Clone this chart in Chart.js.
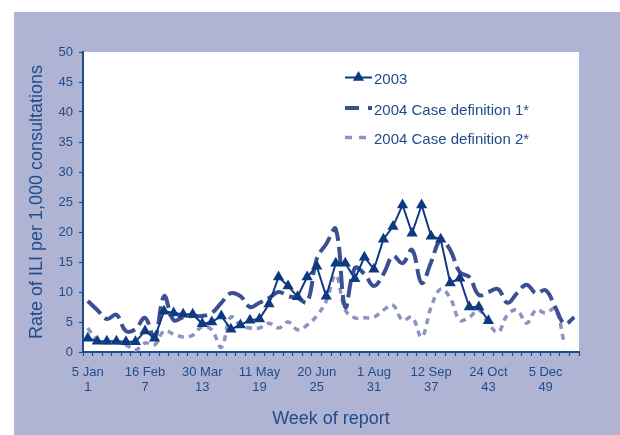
<!DOCTYPE html>
<html>
<head>
<meta charset="utf-8">
<script src="https://cdn.jsdelivr.net/npm/chart.js@4/dist/chart.umd.min.js"></script>
<style>
  html, body { margin: 0; padding: 0; background: #fff; }
  #wrap { width: 620px; height: 435px; }
</style>
</head>
<body>
<div id="wrap"><canvas id="chart" width="620" height="435"></canvas></div>
<script>
// Weeks of report (categories)
var weeks = [1,2,3,4,5,6,7,8,9,10,11,12,13,14,15,16,17,18,19,20,21,22,23,24,25,26,
             27,28,29,30,31,32,33,34,35,36,37,38,39,40,41,42,43,44,45,46,47,48,49,50,51,52];

// Labelled ticks on the x axis
var tickWeeks = [1, 7, 13, 19, 25, 31, 37, 43, 49];
var tickDates = ['5 Jan', '16 Feb', '30 Mar', '11 May', '20 Jun', '1 Aug', '12 Sep', '24 Oct', '5 Dec'];

// Rate of ILI per 1,000 consultations
var rate2003 = [2.3, 1.8, 1.8, 1.8, 1.7, 1.7, 3.5, 2.3, 6.8, 6.5, 6.3, 6.3, 4.7, 5.0, 6.0, 3.8,
                4.5, 5.3, 5.5, 8.0, 12.5, 11.0, 9.2, 12.5, 14.3, 9.3, 14.8, 14.8, 12.2, 15.8,
                13.8, 18.8, 20.9, 24.5, 19.8, 24.5, 19.3, 18.8, 11.5, 12.3, 7.5, 7.5, 5.2];

var rateDef1 = [8.5, 7.0, 5.5, 6.2, 3.5, 3.8, 5.7, 2.3, 9.3, 5.3, 5.8, 6.0, 6.0, 6.5, 8.2, 9.8,
                9.3, 7.5, 8.2, 9.0, 10.0, 9.3, 9.0, 8.3, 15.5, 18.0, 20.5, 7.5, 14.0, 13.0,
                11.0, 13.0, 16.0, 14.8, 17.0, 11.5, 15.0, 18.7, 17.0, 13.3, 12.5, 9.5, 10.0,
                10.5, 8.2, 9.8, 11.2, 9.8, 10.3, 7.5, 4.7, 5.8];

var rateDef2 = [4.0, 2.0, 1.5, 1.5, 1.2, 0.3, 1.5, 1.2, 3.5, 3.0, 2.5, 2.8, 4.2, 3.7, 0.8, 5.8,
                4.5, 4.0, 4.0, 4.8, 4.0, 5.0, 3.7, 4.5, 6.0, 8.5, 12.8, 7.0, 5.7, 5.7,
                5.8, 7.0, 7.8, 5.3, 5.8, 2.5, 7.5, 10.5, 9.0, 5.3, 5.8, 7.0, 4.8,
                3.3, 6.2, 7.0, 4.8, 7.0, 6.5, 7.2, 1.2, null];

var textColor = '#1f4c8c';
var panelColor = '#b0b4d4';

// Panel and white plot area behind the chart
var panel = {
    id: 'panel',
    beforeDraw: function(chart) {
        var ctx = chart.ctx, a = chart.chartArea;
        ctx.save();
        ctx.fillStyle = '#ffffff';
        ctx.fillRect(0, 0, chart.width, chart.height);
        ctx.fillStyle = panelColor;
        ctx.fillRect(14, 12, chart.width - 14, chart.height - 12);
        ctx.fillStyle = '#ffffff';
        ctx.fillRect(a.left, a.top, a.right - a.left, a.bottom - a.top);
        ctx.restore();
    }
};

// Legend drawn inside the plot, like the original
var legendBox = {
    id: 'legendBox',
    afterDraw: function(chart) {
        var ctx = chart.ctx;
        var rows = [80, 110.5, 140];
        chart.data.datasets.forEach(function(ds, i) {
            var y = rows[i];
            ctx.save();
            ctx.strokeStyle = ds.borderColor;
            ctx.lineWidth = ds.borderWidth;
            ctx.setLineDash(ds.legendDash || []);
            ctx.beginPath();
            ctx.moveTo(345, y - 2.5);
            ctx.lineTo(372, y - 2.5);
            ctx.stroke();
            ctx.setLineDash([]);
            if (ds.pointStyle === 'triangle') {
                ctx.fillStyle = ds.pointBackgroundColor;
                Chart.helpers.drawPoint(ctx, {pointStyle: 'triangle', radius: 4.5, rotation: 0, borderWidth: 1}, 358.5, y - 2.5);
            }
            ctx.fillStyle = textColor;
            ctx.font = '15px "Liberation Sans", Arial, sans-serif';
            ctx.textBaseline = 'middle';
            ctx.fillText(ds.label, 374, y);
            ctx.restore();
        });
    }
};

var ctx = document.getElementById('chart').getContext('2d');
var chart = new Chart(ctx, {
    type: 'line',
    data: {
        labels: weeks,
        datasets: [
            {
                label: '2003',
                data: rate2003,
                borderColor: '#0f3a80',
                backgroundColor: '#0f3a80',
                pointBackgroundColor: '#0f3a80',
                pointBorderColor: '#0f3a80',
                borderWidth: 2,
                pointStyle: 'triangle',
                pointRadius: 4.5,
                tension: 0
            },
            {
                label: '2004 Case definition 1*',
                data: rateDef1,
                borderColor: '#3c4f93',
                borderWidth: 4,
                borderDash: [18, 6],
                legendDash: [14, 9],
                pointRadius: 0,
                tension: 0.4
            },
            {
                label: '2004 Case definition 2*',
                data: rateDef2,
                borderColor: '#8d92c5',
                borderWidth: 3.5,
                borderDash: [6, 5],
                legendDash: [7, 7],
                pointRadius: 0,
                tension: 0.4
            }
        ]
    },
    options: {
        responsive: false,
        animation: false,
        devicePixelRatio: 1,
        layout: { padding: { left: 0, top: 52, right: 41, bottom: 0 } },
        plugins: {
            legend: { display: false },
            tooltip: { enabled: false }
        },
        scales: {
            x: {
                offset: true,
                afterFit: function(scale) { scale.height = 83; },
                grid: { offset: true, drawOnChartArea: false, drawTicks: true, tickLength: 4, tickColor: textColor, tickWidth: 1.2 },
                border: { color: textColor, width: 2 },
                ticks: {
                    autoSkip: false,
                    maxRotation: 0,
                    padding: 9,
                    color: textColor,
                    font: { family: '"Liberation Sans", Arial, sans-serif', size: 13, lineHeight: 1.154 },
                    callback: function(value, index) {
                        var k = tickWeeks.indexOf(weeks[index]);
                        return k < 0 ? '' : [tickDates[k], String(tickWeeks[k])];
                    }
                },
                title: {
                    display: true,
                    text: 'Week of report',
                    color: textColor,
                    font: { family: '"Liberation Sans", Arial, sans-serif', size: 18 },
                    padding: { top: 0, bottom: 5 }
                }
            },
            y: {
                min: 0,
                max: 50,
                afterFit: function(scale) { scale.width = 83; },
                grid: { drawOnChartArea: false, drawTicks: true, tickLength: 4, tickColor: textColor, tickWidth: 1.2 },
                border: { color: textColor, width: 2 },
                ticks: {
                    stepSize: 5,
                    padding: 6,
                    color: textColor,
                    font: { family: '"Liberation Sans", Arial, sans-serif', size: 13 }
                },
                title: {
                    display: true,
                    text: 'Rate of ILI per 1,000 consultations',
                    color: textColor,
                    font: { family: '"Liberation Sans", Arial, sans-serif', size: 18 },
                    padding: { top: 26, bottom: 0 }
                }
            }
        }
    },
    plugins: [panel, legendBox]
});
</script>
</body>
</html>
